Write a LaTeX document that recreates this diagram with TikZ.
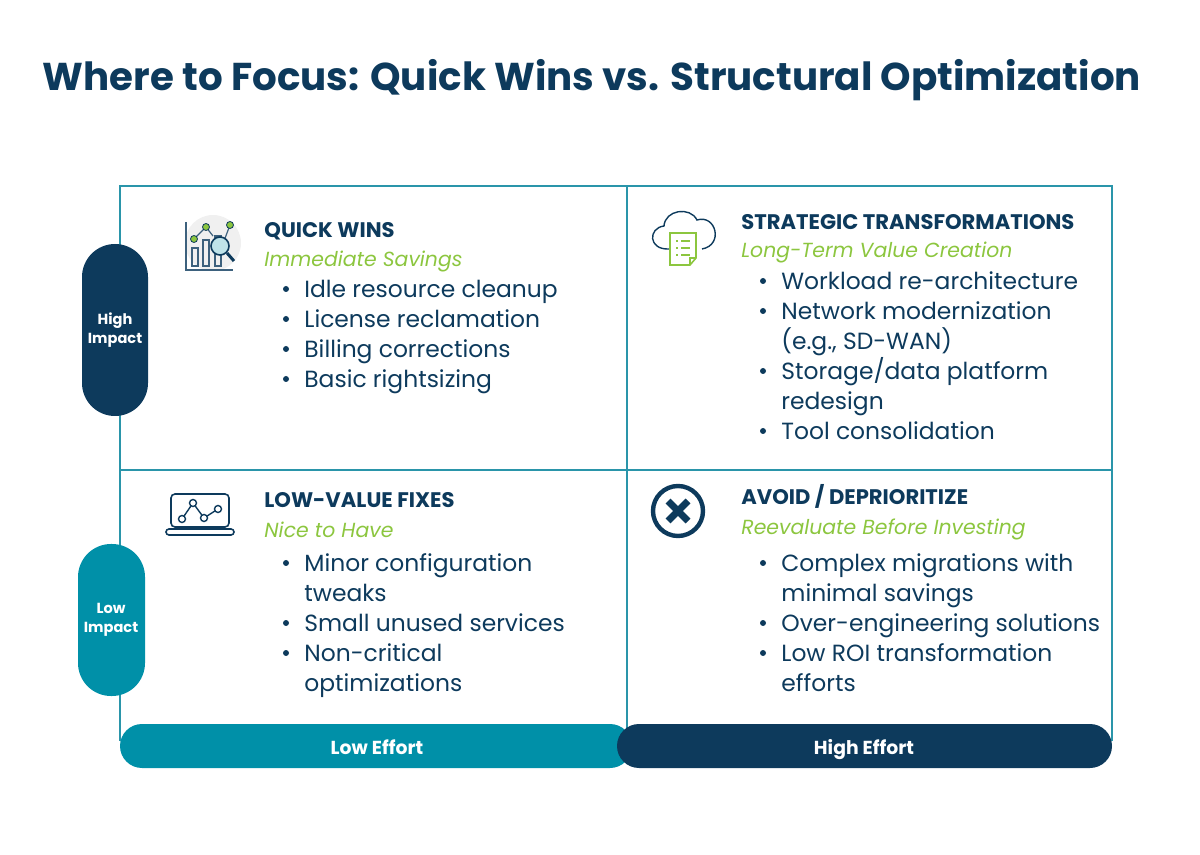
\documentclass[tikz,border=0pt]{standalone}
\usepackage{fontspec}
\setmainfont{Poppins}
\definecolor{navy}{HTML}{0D3A5C}
\definecolor{teal}{HTML}{0090A8}
\definecolor{lime}{HTML}{8CC63F}
\definecolor{gridc}{HTML}{2A95AA}
\begin{document}
\begin{tikzpicture}[x=0.5pt,y=-0.5pt,
  fix/.style={text height=9.1pt,text depth=0.9pt},
  head/.style={anchor=west,fix,font=\bfseries\fontsize{10.55}{12}\selectfont,text=navy,inner sep=0},
  sub/.style={anchor=west,fix,font=\itshape\fontsize{10.2}{12}\selectfont,text=lime,inner sep=0},
  item/.style={anchor=west,fix,font=\fontsize{11.7}{13}\selectfont,text=navy,inner sep=0},
  dot/.style={circle,fill=navy,inner sep=0,minimum size=3pt},
  pilltext/.style={font=\bfseries\fontsize{7.3}{9.5}\selectfont,text=white,align=center},
  bartext/.style={fix,inner sep=0,font=\bfseries\fontsize{9.4}{11}\selectfont,text=white}]
\useasboundingbox (0,0) rectangle (1200,855);
\node[font=\bfseries\fontsize{19.4}{22}\selectfont,text=navy] (title) at (592,80) {Where to Focus: Quick Wins vs. Structural Optimization};
% grid
\draw[gridc,line width=0.6pt] (120,186) rectangle (1112,740);
\draw[gridc,line width=0.6pt] (627,186) -- (627,740);
\draw[gridc,line width=0.6pt] (120,470) -- (1112,470);
% bars
\draw[fill=teal,draw=none,rounded corners=11pt] (120,724) rectangle (632,768);
\draw[fill=navy,draw=none,rounded corners=11pt] (617,724) rectangle (1112,768);
\node[bartext] (le) at (377,746) {Low Effort};
\node[bartext] (he) at (864,746) {High Effort};
% pills
\draw[fill=navy,draw=none,rounded corners=16.5pt] (82,244) rectangle (148,416);
\node[pilltext] (hi) at (115,330) {High\\Impact};
\draw[fill=teal,draw=none,rounded corners=16.5pt] (78,544) rectangle (145,696);
\node[pilltext] (lo) at (111,620) {Low\\Impact};
% quadrant 1
\fill[black!6] (213,243) circle (28);
\draw[navy!80,line width=0.6pt] (186,222) -- (186,270) -- (233,270);
\draw[navy!80,line width=0.6pt] (192,248) rectangle (198,266) (203,240) rectangle (209,266) (215,236) rectangle (221,266);
\draw[navy!80,line width=0.6pt] (194,239) -- (206,227) -- (213,236) (224,241) -- (230,225);
\fill[lime,draw=navy,line width=0.4pt] (194,239) circle (3.5) (206,227) circle (3.5) (230,225) circle (3.5);
\draw[navy,line width=0.8pt,fill=teal!25] (220,246) circle (9);
\draw[navy,line width=1.5pt] (227,253) -- (234,261);
\node[head] (h1) at (264,229) {QUICK WINS};
\node[sub] (s1) at (264,258) {Immediate Savings};
\foreach \t [count=\i] in {Idle resource cleanup,License reclamation,Billing corrections,Basic rightsizing}{
  \node[dot] at (286,259+30*\i) {};
  \node[item] at (304,259+30*\i) {\t};}
% quadrant 2
\draw[navy,line width=0.7pt] (669,249) .. controls (648,250) and (648,228) .. (664,226) .. controls (665,210) and (690,206) .. (697,220) .. controls (716,214) and (724,245) .. (702,249);
\draw[lime,line width=0.8pt,fill=white] (670,233) -- (696,233) -- (696,258) -- (690,265) -- (670,265) -- cycle;
\draw[lime,line width=0.6pt] (690,265) -- (690,258) -- (696,258);
\foreach \yy in {241,248,255}{\draw[lime,line width=0.6pt] (676,\yy) -- (678,\yy) (681,\yy) -- (690,\yy);}
\node[head] (h2) at (741,221) {STRATEGIC TRANSFORMATIONS};
\node[sub] (s2) at (741,249) {Long-Term Value Creation};
\foreach \t/\y/\d in {Workload re-architecture/281/1,Network modernization/311/1,(e.g., SD-WAN)/341/0,{Storage/data platform}/371/1,redesign/401/0,Tool consolidation/431/1}{
  \ifnum\d=1 \node[dot] at (763,\y) {};\fi
  \node[item] at (781,\y) {\t};}
% quadrant 3
\draw[navy,line width=0.8pt,rounded corners=2pt] (171,494) rectangle (229,527);
\draw[navy,line width=0.8pt,rounded corners=1.5pt] (166,529) rectangle (234,535);
\draw[navy,line width=0.7pt] (182,519) -- (193,503) -- (204,518) -- (218,509);
\draw[navy,line width=0.7pt,fill=white] (182,519) circle (3.5) (193,503) circle (3.5) (204,518) circle (3.5) (218,509) circle (3.5);
\node[head] (h3) at (264,499) {LOW-VALUE FIXES};
\node[sub] (s3) at (264,529) {Nice to Have};
\foreach \t/\y/\d in {Minor configuration/563/1,tweaks/593/0,Small unused services/623/1,Non-critical/653/1,optimizations/683/0}{
  \ifnum\d=1 \node[dot] at (286,\y) {};\fi
  \node[item] at (304,\y) {\t};}
% quadrant 4
\draw[navy,line width=2.2pt] (678,511) circle (25);
\draw[navy,line width=3.5pt] (668,501) -- (688,521) (688,501) -- (668,521);
\node[head] (h4) at (741,496) {AVOID / DEPRIORITIZE};
\node[sub] (s4) at (741,526) {Reevaluate Before Investing};
\foreach \t/\y/\d in {Complex migrations with/563/1,minimal savings/593/0,Over-engineering solutions/623/1,Low ROI transformation/653/1,efforts/683/0}{
  \ifnum\d=1 \node[dot] at (763,\y) {};\fi
  \node[item] at (781,\y) {\t};}
\end{tikzpicture}
\end{document}
